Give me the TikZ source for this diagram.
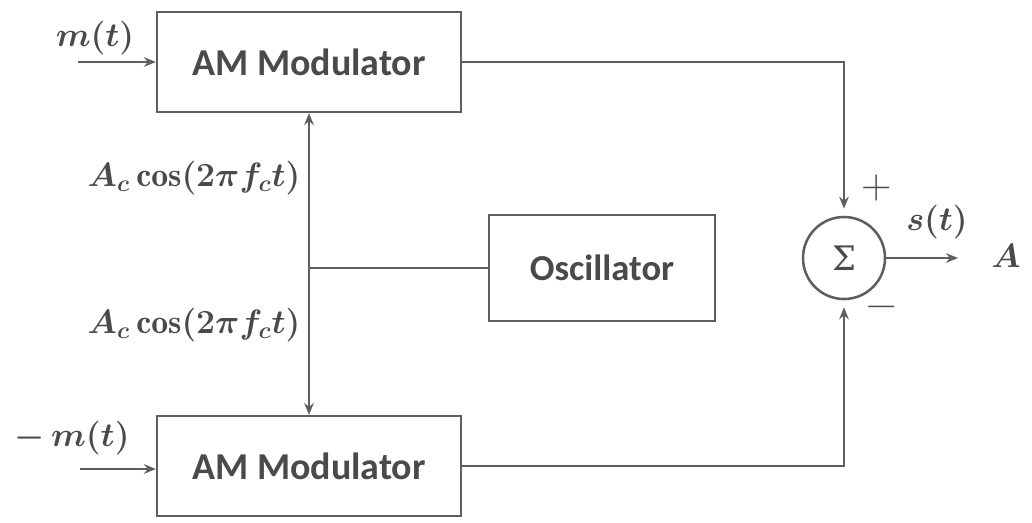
\RequirePackage{fix-cm}
\documentclass[tikz,border=0pt]{standalone}
\usepackage{fontspec}
\setsansfont{Carlito}
\newfontfamily\sigmafont{DejaVu Serif}
\usepackage{amsmath}
\usetikzlibrary{arrows.meta, positioning, calc}
\definecolor{linegray}{HTML}{5E5E5E}
\definecolor{textgray}{HTML}{4A4A4A}

\begin{document}
\begin{tikzpicture}[
    x=0.025cm, y=-0.025cm,
    >={Stealth[length=3mm, width=2.4mm]},
    modbox/.style={draw=linegray, line width=1.5pt, minimum width=7.6cm, minimum height=2.5cm,
        font=\sffamily\bfseries\fontsize{27}{30}\selectfont, text=textgray},
    oscbox/.style={draw=linegray, line width=1pt, minimum width=5.65cm, minimum height=2.65cm,
        font=\sffamily\bfseries\fontsize{26}{30}\selectfont, text=textgray},
    sumnode/.style={draw=linegray, circle, line width=1.8pt, minimum size=2.05cm,
        font=\sigmafont\fontsize{24}{28}\selectfont, text=textgray},
    wire/.style={draw=linegray, line width=2pt},
    lbl/.style={font=\fontsize{24}{28}\selectfont\boldmath, text=textgray, inner sep=1pt},
    sgn/.style={font=\fontsize{30}{34}\selectfont, text=textgray, inner sep=1pt}
]
\useasboundingbox (0,0) rectangle (1032,522);

% blocks
\node[modbox] (modtop) at (309,62) {AM Modulator};
\node[modbox] (modbot) at (309,466) {AM Modulator};
\node[oscbox] (osc) at (602,268) {Oscillator};
\node[sumnode] (sum) at (844,258) {Σ};

% inputs
\coordinate (intop) at (78,62);
\coordinate (inbot) at (80,469);
\node[lbl] (mtop) at (95,38) {$m(t)$};
\node[lbl] (mbot) at (72,438) {$-\,m(t)$};
\draw[wire, ->] (intop) -- (modtop.west);
\draw[wire, ->] (inbot) -- (inbot -| modbot.west);

% carrier
\draw[wire, <->] (modtop.south) -- (modbot.north);
\draw[wire] (osc.west) -- (osc.west -| modtop.south);
\node[lbl, anchor=east] (cartop) at (302,178) {$A_c\cos(2\pi f_c t)$};
\node[lbl, anchor=east] (carbot) at (302,325) {$A_c\cos(2\pi f_c t)$};

% summation
\draw[wire, ->, shorten >=5pt] (modtop.east) -| (sum.north);
\draw[wire, ->, shorten >=5pt] (modbot.east) -| (sum.south);
\node[sgn] (plus) at (877,188) {+};
\node[sgn] (minus) at (882,312) {−};

% output
\coordinate (out) at (958,258);
\draw[wire, ->] (sum.east) -- (out);
\node[lbl] (st) at (937,222) {$s(t)$};
\node[lbl] (aout) at (1006,256) {$A$};

\end{tikzpicture}
\end{document}
